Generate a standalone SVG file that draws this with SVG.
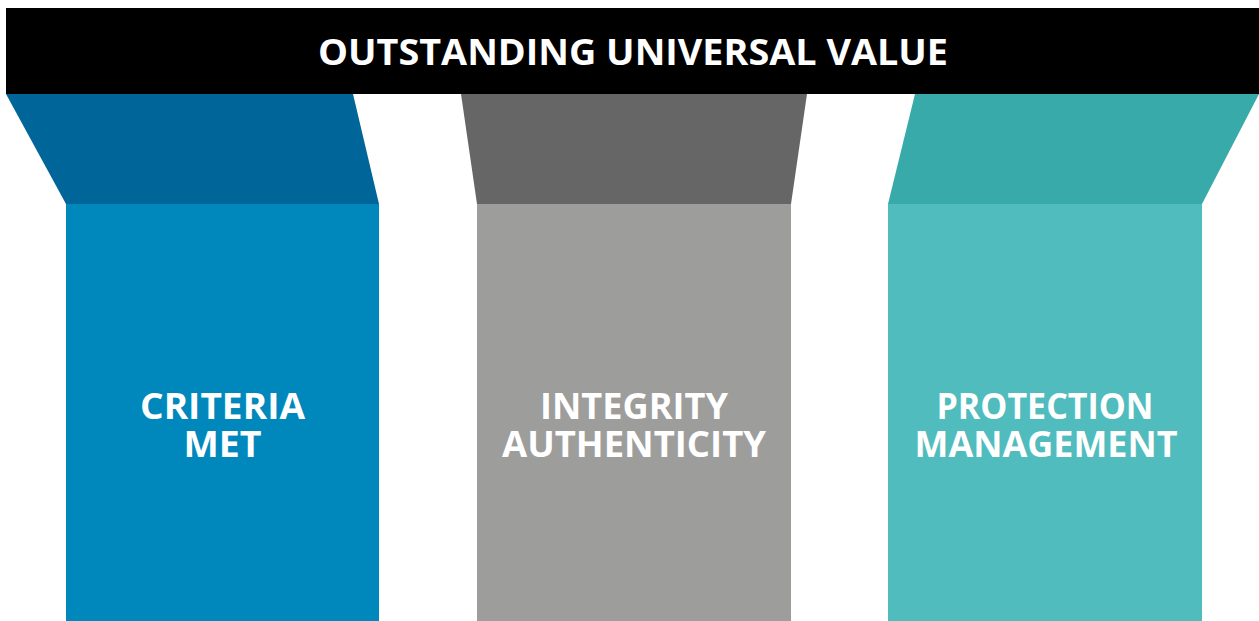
<svg xmlns="http://www.w3.org/2000/svg" width="1259" height="621" viewBox="0 0 1259 621">
<style>
.t{font-family:"Open Sans","Liberation Sans",sans-serif;font-weight:700;font-size:36px;fill:#ffffff;text-anchor:middle}
</style>
<rect width="1259" height="621" fill="#ffffff"/>
<g id="header">
<rect x="6" y="8" width="1253" height="86" fill="#000000"/>
<text class="t" x="633" y="65" textLength="630" lengthAdjust="spacingAndGlyphs">OUTSTANDING UNIVERSAL VALUE</text>
</g>
<g id="criteria">
<polygon points="6,94 353,94 379,204 66,204" fill="#006699"/>
<rect x="66" y="204" width="313" height="417" fill="#0088BC"/>
<text class="t" x="222.5" y="419" textLength="165" lengthAdjust="spacingAndGlyphs">CRITERIA</text>
<text class="t" x="222.5" y="457" textLength="78" lengthAdjust="spacingAndGlyphs">MET</text>
</g>
<g id="integrity">
<polygon points="461,94 807,94 791,204 477,204" fill="#666666"/>
<rect x="477" y="204" width="314" height="417" fill="#9D9D9C"/>
<text class="t" x="634" y="419" textLength="188" lengthAdjust="spacingAndGlyphs">INTEGRITY</text>
<text class="t" x="634" y="457" textLength="264" lengthAdjust="spacingAndGlyphs">AUTHENTICITY</text>
</g>
<g id="protection">
<polygon points="915,94 1259,94 1202,204 888,204" fill="#37AAA9"/>
<rect x="888" y="204" width="314" height="417" fill="#50BCBD"/>
<text class="t" x="1045" y="419" textLength="217" lengthAdjust="spacingAndGlyphs">PROTECTION</text>
<text class="t" x="1046" y="457" textLength="263" lengthAdjust="spacingAndGlyphs">MANAGEMENT</text>
</g>
<g id="connectors"></g>
</svg>
